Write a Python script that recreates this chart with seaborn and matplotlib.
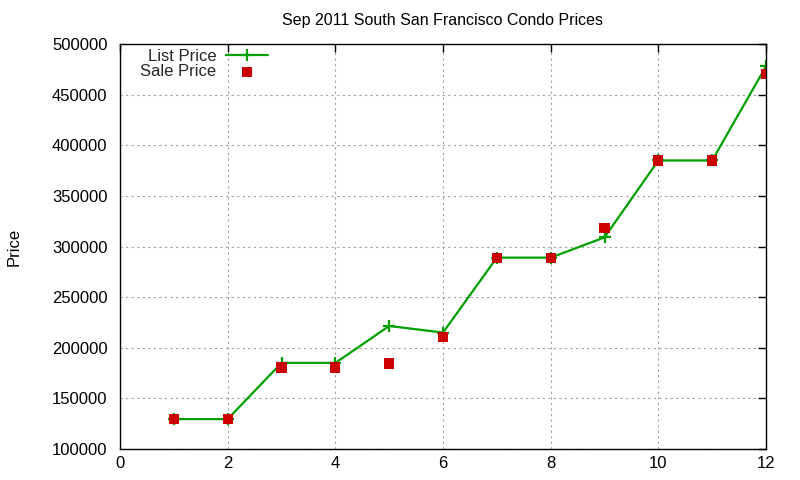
import matplotlib
matplotlib.use("Agg")
import matplotlib.pyplot as plt
import seaborn as sns
import pandas as pd

months = [1, 2, 3, 4, 5, 6, 7, 8, 9, 10, 11, 12]
list_price = [129500, 129500, 185000, 185000, 221500, 215000, 289000, 289000, 309000, 385000, 385000, 478000]
sale_price = [129500, 129500, 180500, 180500, 184500, 210500, 288500, 288500, 318000, 385000, 385000, 470500]
x_ticks = [0, 2, 4, 6, 8, 10, 12]
y_ticks = [100000, 150000, 200000, 250000, 300000, 350000, 400000, 450000, 500000]
title = "Sep 2011 South San Francisco Condo Prices"

sns.set_theme(style="white")
plt.rcParams['font.family'] = ['Liberation Sans', 'DejaVu Sans']

df = pd.DataFrame({"month": months, "list": list_price, "sale": sale_price})

fig = plt.figure(figsize=(8, 4.8), dpi=100)
ax = fig.add_axes([0.15, 0.0646, 0.8075, 0.8437])

sns.lineplot(data=df, x="month", y="list", ax=ax, color="#00a000", linewidth=1.6,
             marker="+", markersize=9, markeredgewidth=1.6, markeredgecolor="#00a000",
             label="List Price")
sns.scatterplot(data=df, x="month", y="sale", ax=ax, color="#cc0000", marker="s",
                s=55, edgecolor="none", label="Sale Price", zorder=3)

ax.set_xlim(0, 12)
ax.set_ylim(100000, 500000)
ax.set_xticks(x_ticks)
ax.set_yticks(y_ticks)
ax.set_xticklabels([str(v) for v in x_ticks])
ax.set_yticklabels([str(v) for v in y_ticks])
ax.tick_params(direction="in", length=6, width=1, top=True, right=True,
               labelsize=12, colors="black", pad=9)
ax.tick_params(axis="x", pad=5)
for s in ax.spines.values():
    s.set_color("black")
    s.set_linewidth(1)
ax.grid(True, color="#a0a0a0", linestyle=(0, (2, 3)), linewidth=0.8)
ax.set_axisbelow(True)
ax.set_xlabel("")
ax.set_ylabel("Price", fontsize=12, color="black", labelpad=22)
ax.set_title(title, fontsize=11.5, color="black", pad=14)

leg = ax.legend(loc="upper left", bbox_to_anchor=(0.013, 1.016), frameon=False,
                markerfirst=False, fontsize=12, handlelength=2.5,
                borderaxespad=0.3, labelspacing=0.0, handletextpad=0.6)

fig.savefig("out.png", dpi=100)
